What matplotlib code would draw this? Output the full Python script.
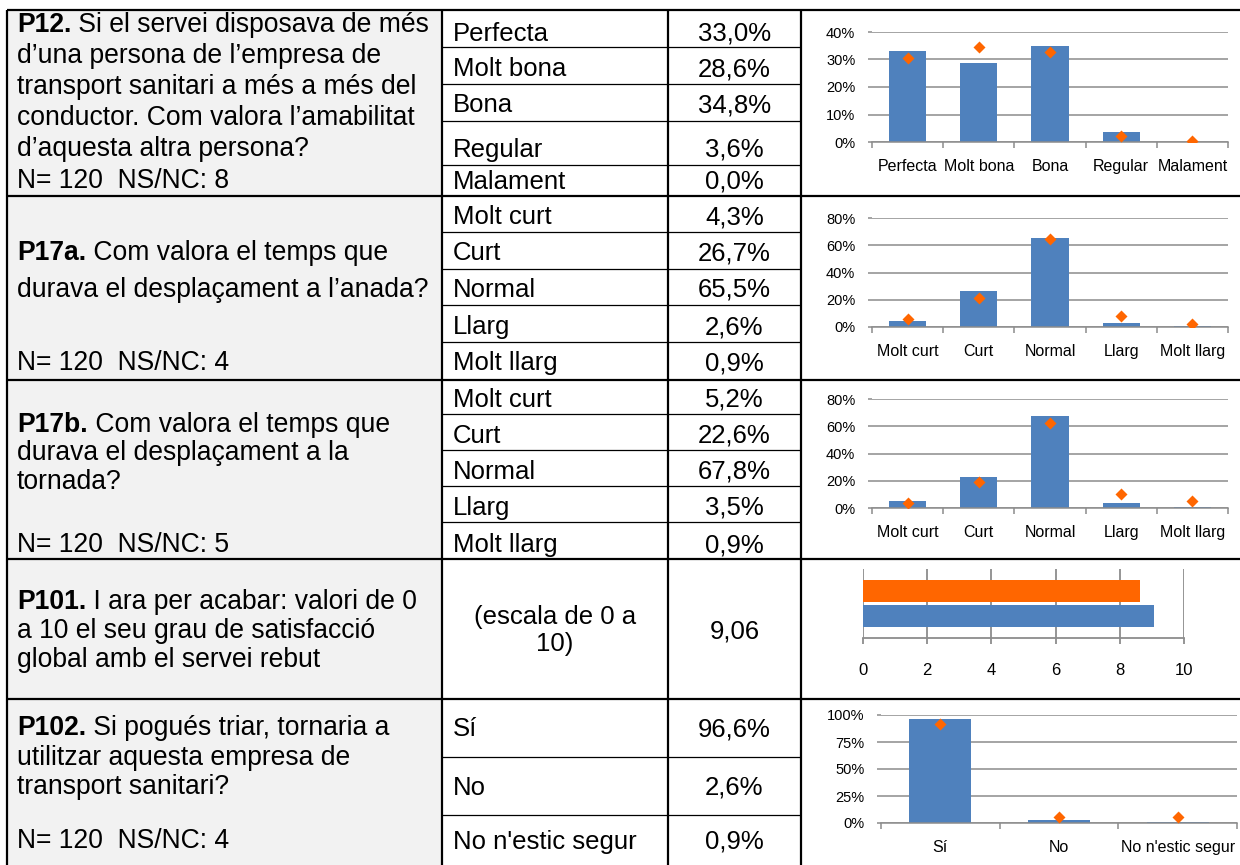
import matplotlib
matplotlib.use("Agg")
import matplotlib.pyplot as plt
import numpy as np
from matplotlib.patches import Rectangle
from matplotlib.ticker import PercentFormatter, FixedLocator

plt.rcParams['font.family'] = ['Liberation Sans', 'DejaVu Sans']

p12_labels = ["Perfecta", "Molt bona", "Bona", "Regular", "Malament"]
p12_pct = [33.0, 28.6, 34.8, 3.6, 0.0]
p12_ref = [30.4, 34.6, 32.6, 2.2, 0.5]

p17_labels = ["Molt curt", "Curt", "Normal", "Llarg", "Molt llarg"]
p17a_pct = [4.3, 26.7, 65.5, 2.6, 0.9]
p17a_ref = [5.6, 21.4, 64.3, 7.8, 2.4]
p17b_pct = [5.2, 22.6, 67.8, 3.5, 0.9]
p17b_ref = [3.4, 19.3, 62.3, 10.6, 5.4]

p101_value = 9.06
p101_ref = 8.62

p102_labels = ["Sí", "No", "No n'estic segur"]
p102_pct = [96.6, 2.6, 0.9]
p102_ref = [91.3, 5.9, 5.9]

q12 = ["P12.", [" Si el servei disposava de més", "d’una persona de l’empresa de",
                 "transport sanitari a més a més del", "conductor. Com valora l’amabilitat",
                 "d’aquesta altra persona?", "N= 120  NS/NC: 8"]]
q17a = ["P17a.", [" Com valora el temps que", "durava el desplaçament a l’anada?",
                  "N= 120  NS/NC: 4"]]
q17b = ["P17b.", [" Com valora el temps que", "durava el desplaçament a la",
                  "tornada?", "N= 120  NS/NC: 5"]]
q101 = ["P101.", [" I ara per acabar: valori de 0", "a 10 el seu grau de satisfacció",
                  "global amb el servei rebut"]]
q102 = ["P102.", [" Si pogués triar, tornaria a", "utilitzar aquesta empresa de",
                  "transport sanitari?", "N= 120  NS/NC: 4"]]
p101_scale = ["(escala de 0 a", "10)"]

BLUE = '#4f81bd'
ORANGE = '#ff6600'
GRID = '#8c8c8c'
TXT = 18.5
QTXT = 19.1
W, H = 1240, 865

fig = plt.figure(figsize=(12.4, 8.65), dpi=100)
tab = fig.add_axes([0, 0, 1, 1])
tab.set_xlim(0, W)
tab.set_ylim(H, 0)
tab.axis('off')


def fr(x0, y0, x1, y1):
    # pixel box -> figure fraction
    return [x0 / W, 1 - y1 / H, (x1 - x0) / W, (y1 - y0) / H]


def pct(v):
    return f"{v:.1f}".replace('.', ',') + '%'


# table grid
tab.add_patch(Rectangle((7, 10), 435, 870, color='#f2f2f2', lw=0))
for y in [10, 196, 380, 559, 699]:
    tab.plot([7, W], [y, y], color='black', lw=1.6, solid_capstyle='butt')
for x in [7, 442, 668, 801]:
    tab.plot([x, x], [10, H], color='black', lw=1.6, solid_capstyle='butt')
for y in [47, 84, 121, 165, 232, 269, 305, 342, 414, 450, 486, 522, 757, 815]:
    tab.plot([442, 801], [y, y], color='black', lw=0.9, solid_capstyle='butt')


def question(q, ys):
    first = tab.text(17, ys[0], q[0], fontsize=QTXT, fontweight='bold', va='baseline')
    tab.annotate(q[1][0], xy=(1, 0), xycoords=first, fontsize=QTXT, va='bottom')
    for y, s in zip(ys[1:], q[1][1:]):
        tab.text(17, y, s, fontsize=QTXT, va='baseline')


def answers(labels, values, ys):
    for y, lab, v in zip(ys, labels, values):
        tab.text(453, y, lab, fontsize=TXT, va='baseline')
        tab.text(734.5, y, pct(v), fontsize=TXT, va='baseline', ha='center')


question(q12, [32, 63, 94, 125, 156, 188])
answers(p12_labels, p12_pct, [41, 76, 112, 157, 189])
question(q17a, [260, 297, 370])
answers(p17_labels, p17a_pct, [224, 260, 297, 334, 370])
question(q17b, [432, 460, 489, 552])
answers(p17_labels, p17b_pct, [407, 443, 479, 515, 552])
question(q101, [609, 638, 667])
for y, s in zip([624, 651], p101_scale):
    tab.text(555, y, s, fontsize=TXT, va='baseline', ha='center')
tab.text(734.5, 638, f"{p101_value:.2f}".replace('.', ','), fontsize=TXT,
         va='baseline', ha='center')
question(q102, [735, 765, 794, 848])
answers(p102_labels, p102_pct, [736, 795, 849])


def bar_chart(box, labels, values, ref, ymax, step):
    ax = fig.add_axes(fr(*box))
    x = np.arange(len(labels))
    ax.bar(x, np.array(values) / 100, width=0.52, color=BLUE, zorder=2)
    ax.plot(x, np.array(ref) / 100, 'D', color=ORANGE, ms=6.5, mec='none', zorder=3)
    ax.set_xlim(-0.5, len(labels) - 0.5)
    ax.set_ylim(0, ymax)
    ax.set_yticks(np.arange(0, ymax + 1e-9, step))
    ax.yaxis.set_major_formatter(PercentFormatter(1.0, decimals=0))
    ax.set_axisbelow(True)
    ax.grid(axis='y', color=GRID, lw=1.1)
    for s in ['top', 'right', 'left']:
        ax.spines[s].set_visible(False)
    ax.spines['bottom'].set_color(GRID)
    ax.spines['bottom'].set_linewidth(1.1)
    ax.set_xticks(x, labels)
    ax.xaxis.set_minor_locator(FixedLocator(np.arange(-0.5, len(labels), 1)))
    ax.tick_params(axis='x', which='major', length=0, pad=12, labelsize=11.5)
    ax.tick_params(axis='x', which='minor', length=4, color=GRID, width=1.1)
    ax.tick_params(axis='y', length=3, color=GRID, width=1.1, pad=9, labelsize=10.5)
    ax.patch.set_alpha(0)
    return ax


bar_chart((872, 32, 1228, 142), p12_labels, p12_pct, p12_ref, 0.4, 0.1)
bar_chart((872, 218, 1228, 327), p17_labels, p17a_pct, p17a_ref, 0.8, 0.2)
bar_chart((872, 399, 1228, 508), p17_labels, p17b_pct, p17b_ref, 0.8, 0.2)
bar_chart((881, 715, 1237, 823), p102_labels, p102_pct, p102_ref, 1.0, 0.25)

ax4 = fig.add_axes(fr(863, 569, 1184, 638))
ax4.barh([0, 1], [p101_value, p101_ref], height=0.88, color=[BLUE, ORANGE], zorder=2)
ax4.set_xlim(0, 10)
ax4.set_ylim(-0.88, 1.88)
ax4.set_xticks(range(0, 11, 2))
ax4.set_yticks([])
ax4.set_axisbelow(True)
ax4.grid(axis='x', color=GRID, lw=1.3)
for s in ['top', 'right', 'left']:
    ax4.spines[s].set_visible(False)
ax4.spines['bottom'].set_color(GRID)
ax4.spines['bottom'].set_linewidth(1.3)
ax4.tick_params(axis='x', length=4, color=GRID, width=1.3, pad=14, labelsize=12)
ax4.patch.set_alpha(0)

fig.savefig("out.png", dpi=100)
